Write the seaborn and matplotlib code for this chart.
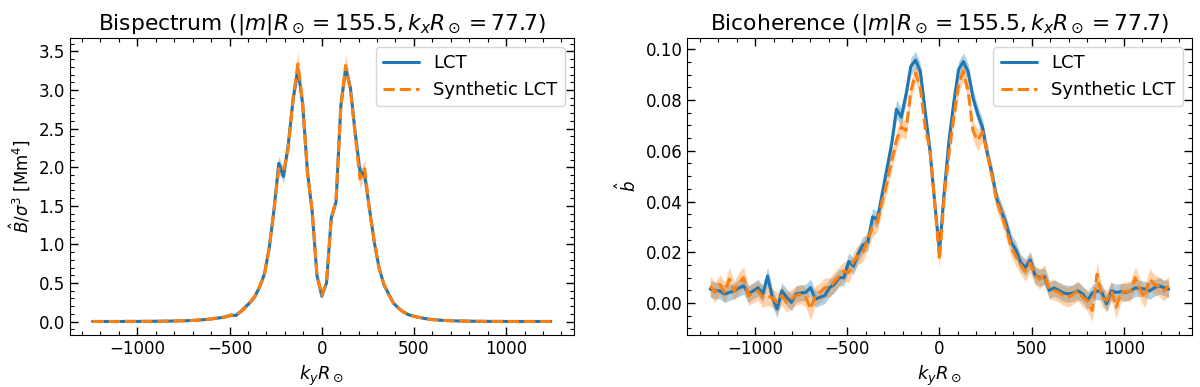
import numpy as np
import pandas as pd
import matplotlib
matplotlib.use("Agg")
import matplotlib.pyplot as plt
import seaborn as sns
from matplotlib.ticker import AutoMinorLocator

# grid index, ky R_sun = n * 25.9
n_idx = list(range(-48, 49))
ky_step = 25.9

# bispectrum, LCT
bisp_lct = [
    0.002, 0.002, 0.002, 0.002, 0.002, 0.002, 0.002, 0.003,
    0.003, 0.003, 0.003, 0.004, 0.004, 0.005, 0.005, 0.006,
    0.007, 0.008, 0.010, 0.011, 0.013, 0.016, 0.020, 0.024,
    0.030, 0.036, 0.045, 0.052, 0.065, 0.085, 0.080, 0.130,
    0.190, 0.250, 0.330, 0.450, 0.620, 0.950, 1.450, 2.050,
    1.880, 2.300, 2.880, 3.270, 2.820, 1.950, 1.420, 0.600,
    0.330,
    0.500, 1.350, 1.550, 2.800, 3.280, 3.030, 2.450, 1.950,
    1.900, 1.460, 1.030, 0.700, 0.480, 0.360, 0.240, 0.180,
    0.130, 0.095, 0.075, 0.060, 0.048, 0.036, 0.028, 0.022,
    0.018, 0.015, 0.012, 0.010, 0.008, 0.007, 0.006, 0.005,
    0.004, 0.004, 0.003, 0.003, 0.003, 0.003, 0.002, 0.002,
    0.002, 0.002, 0.002, 0.002, 0.002, 0.002, 0.002, 0.002,
]
bisp_lct_err = [
    0.002, 0.002, 0.002, 0.002, 0.002, 0.002, 0.002, 0.002,
    0.002, 0.002, 0.002, 0.002, 0.003, 0.003, 0.003, 0.003,
    0.003, 0.004, 0.004, 0.004, 0.005, 0.005, 0.006, 0.006,
    0.007, 0.008, 0.009, 0.010, 0.012, 0.015, 0.015, 0.018,
    0.020, 0.020, 0.025, 0.030, 0.035, 0.040, 0.050, 0.090,
    0.090, 0.060, 0.070, 0.080, 0.070, 0.050, 0.040, 0.030,
    0.030,
    0.030, 0.040, 0.050, 0.070, 0.080, 0.070, 0.060, 0.060,
    0.060, 0.050, 0.040, 0.035, 0.030, 0.025, 0.020, 0.020,
    0.018, 0.015, 0.013, 0.012, 0.010, 0.009, 0.008, 0.007,
    0.006, 0.006, 0.005, 0.005, 0.004, 0.004, 0.004, 0.003,
    0.003, 0.003, 0.003, 0.003, 0.002, 0.002, 0.002, 0.002,
    0.002, 0.002, 0.002, 0.002, 0.002, 0.002, 0.002, 0.002,
]
# bispectrum, synthetic LCT
bisp_syn = [
    0.002, 0.002, 0.002, 0.002, 0.002, 0.002, 0.002, 0.003,
    0.003, 0.003, 0.003, 0.004, 0.004, 0.005, 0.005, 0.006,
    0.007, 0.008, 0.009, 0.011, 0.013, 0.016, 0.019, 0.024,
    0.029, 0.036, 0.044, 0.053, 0.064, 0.082, 0.082, 0.128,
    0.185, 0.255, 0.325, 0.455, 0.610, 0.960, 1.440, 1.980,
    1.950, 2.250, 2.900, 3.340, 2.840, 1.920, 1.440, 0.610,
    0.340,
    0.510, 1.330, 1.580, 2.780, 3.320, 3.000, 2.420, 1.850,
    1.980, 1.440, 1.040, 0.690, 0.490, 0.350, 0.245, 0.175,
    0.128, 0.096, 0.074, 0.058, 0.047, 0.037, 0.027, 0.022,
    0.018, 0.014, 0.012, 0.010, 0.008, 0.007, 0.006, 0.005,
    0.004, 0.004, 0.003, 0.003, 0.003, 0.003, 0.002, 0.002,
    0.002, 0.002, 0.002, 0.002, 0.002, 0.002, 0.002, 0.002,
]
bisp_syn_err = [
    0.002, 0.002, 0.002, 0.002, 0.002, 0.002, 0.002, 0.002,
    0.002, 0.002, 0.002, 0.002, 0.003, 0.003, 0.003, 0.003,
    0.003, 0.004, 0.004, 0.004, 0.005, 0.005, 0.006, 0.006,
    0.008, 0.009, 0.010, 0.012, 0.014, 0.018, 0.018, 0.022,
    0.025, 0.025, 0.030, 0.035, 0.040, 0.050, 0.060, 0.080,
    0.080, 0.080, 0.120, 0.160, 0.100, 0.070, 0.050, 0.040,
    0.040,
    0.040, 0.050, 0.070, 0.100, 0.140, 0.100, 0.080, 0.120,
    0.120, 0.070, 0.050, 0.040, 0.035, 0.030, 0.025, 0.022,
    0.020, 0.018, 0.015, 0.013, 0.011, 0.010, 0.009, 0.008,
    0.007, 0.006, 0.005, 0.005, 0.004, 0.004, 0.004, 0.003,
    0.003, 0.003, 0.003, 0.003, 0.002, 0.002, 0.002, 0.002,
    0.002, 0.002, 0.002, 0.002, 0.002, 0.002, 0.002, 0.002,
]

# bicoherence, LCT
bicoh_lct = [
    0.0055, 0.0050, 0.0048, 0.0036, 0.0042, 0.0048, 0.0060, 0.0068,
    0.0036, 0.0048, 0.0061, 0.0036, 0.0106, 0.0023, -0.0023, 0.0048,
    0.0023, 0.0003, 0.0036, 0.0040, 0.0042, 0.0061, 0.0016, 0.0023,
    0.0030, 0.0061, 0.0074, 0.0100, 0.0100, 0.0164, 0.0145, 0.0195,
    0.0229, 0.0240, 0.0340, 0.0330, 0.0430, 0.0530, 0.0629, 0.0764,
    0.0732, 0.0822, 0.0932, 0.0957, 0.0912, 0.0757, 0.0603, 0.0397,
    0.0203,
    0.0440, 0.0640, 0.0790, 0.0920, 0.0951, 0.0912, 0.0810, 0.0745,
    0.0693, 0.0590, 0.0510, 0.0410, 0.0360, 0.0310, 0.0240, 0.0210,
    0.0160, 0.0140, 0.0170, 0.0110, 0.0100, 0.0105, 0.0050, 0.0060,
    0.0050, 0.0040, 0.0036, 0.0040, 0.0048, 0.0036, 0.0010, 0.0040,
    0.0048, 0.0042, -0.0003, 0.0048, 0.0042, 0.0045, 0.0042, 0.0048,
    0.0060, 0.0058, 0.0055, 0.0048, 0.0060, 0.0068, 0.0061, 0.0055,
]
bicoh_lct_err = [
    0.0032, 0.0033, 0.0031, 0.0034, 0.0032, 0.0031, 0.0034, 0.0033,
    0.0034, 0.0032, 0.0033, 0.0034, 0.0036, 0.0035, 0.0034, 0.0032,
    0.0033, 0.0034, 0.0032, 0.0031, 0.0032, 0.0034, 0.0033, 0.0032,
    0.0032, 0.0034, 0.0034, 0.0033, 0.0032, 0.0034, 0.0032, 0.0033,
    0.0032, 0.0032, 0.0033, 0.0032, 0.0031, 0.0032, 0.0033, 0.0036,
    0.0036, 0.0032, 0.0034, 0.0034, 0.0032, 0.0029, 0.0027, 0.0026,
    0.0026,
    0.0026, 0.0027, 0.0029, 0.0032, 0.0034, 0.0032, 0.0032, 0.0033,
    0.0032, 0.0033, 0.0032, 0.0033, 0.0032, 0.0033, 0.0032, 0.0033,
    0.0032, 0.0033, 0.0034, 0.0032, 0.0033, 0.0034, 0.0032, 0.0033,
    0.0032, 0.0034, 0.0033, 0.0032, 0.0034, 0.0032, 0.0034, 0.0033,
    0.0034, 0.0032, 0.0035, 0.0034, 0.0033, 0.0032, 0.0034, 0.0033,
    0.0034, 0.0032, 0.0031, 0.0034, 0.0033, 0.0032, 0.0031, 0.0034,
]
# bicoherence, synthetic LCT
bicoh_syn = [
    0.0068, 0.0042, 0.0074, 0.0042, 0.0094, 0.0048, 0.0080, 0.0100,
    0.0029, 0.0040, 0.0048, 0.0023, 0.0029, 0.0020, 0.0003, 0.0029,
    0.0003, 0.0016, 0.0030, 0.0036, 0.0023, -0.0023, 0.0030, 0.0042,
    0.0061, 0.0061, 0.0085, 0.0106, 0.0126, 0.0120, 0.0164, 0.0190,
    0.0203, 0.0250, 0.0300, 0.0319, 0.0400, 0.0474, 0.0560, 0.0641,
    0.0693, 0.0680, 0.0835, 0.0906, 0.0848, 0.0693, 0.0603, 0.0397,
    0.0170,
    0.0420, 0.0590, 0.0732, 0.0860, 0.0912, 0.0835, 0.0680, 0.0641,
    0.0674, 0.0590, 0.0500, 0.0400, 0.0350, 0.0290, 0.0220, 0.0184,
    0.0150, 0.0126, 0.0158, 0.0110, 0.0094, 0.0113, 0.0055, 0.0050,
    0.0042, 0.0029, 0.0023, 0.0035, 0.0048, 0.0023, 0.0010, -0.0029,
    0.0113, 0.0023, 0.0010, 0.0048, -0.0016, 0.0042, 0.0045, 0.0048,
    0.0100, 0.0055, 0.0023, 0.0094, 0.0074, 0.0065, 0.0048, 0.0068,
]
bicoh_syn_err = [
    0.0038, 0.0040, 0.0038, 0.0042, 0.0044, 0.0038, 0.0040, 0.0043,
    0.0038, 0.0039, 0.0038, 0.0040, 0.0038, 0.0038, 0.0039, 0.0038,
    0.0039, 0.0038, 0.0038, 0.0039, 0.0038, 0.0043, 0.0038, 0.0038,
    0.0038, 0.0039, 0.0038, 0.0038, 0.0038, 0.0040, 0.0038, 0.0038,
    0.0038, 0.0038, 0.0038, 0.0038, 0.0037, 0.0037, 0.0036, 0.0036,
    0.0038, 0.0036, 0.0036, 0.0036, 0.0035, 0.0033, 0.0030, 0.0030,
    0.0030,
    0.0030, 0.0030, 0.0033, 0.0035, 0.0036, 0.0036, 0.0036, 0.0042,
    0.0038, 0.0036, 0.0036, 0.0037, 0.0038, 0.0038, 0.0038, 0.0038,
    0.0038, 0.0039, 0.0038, 0.0038, 0.0039, 0.0038, 0.0038, 0.0038,
    0.0038, 0.0039, 0.0038, 0.0038, 0.0040, 0.0038, 0.0042, 0.0044,
    0.0048, 0.0038, 0.0039, 0.0038, 0.0043, 0.0038, 0.0038, 0.0039,
    0.0043, 0.0038, 0.0042, 0.0043, 0.0038, 0.0038, 0.0039, 0.0038,
]

ky = np.array(n_idx) * ky_step

blue = "#1f77b4"
orange = "#ff7f0e"

sns.set_style("ticks", rc={"text.color": "black", "axes.labelcolor": "black",
                           "xtick.color": "black", "ytick.color": "black",
                           "axes.edgecolor": "black"})
plt.rcParams["font.family"] = ["DejaVu Sans"]
plt.rcParams["mathtext.fontset"] = "dejavusans"

fig, axes = plt.subplots(1, 2, figsize=(12, 3.87), dpi=100)
fig.subplots_adjust(left=0.058, right=0.993, top=0.902, bottom=0.134, wspace=0.225)

panels = [
    (axes[0], bisp_lct, bisp_lct_err, bisp_syn, bisp_syn_err,
     r"Bispectrum ($|m|R_\odot = 155.5, k_xR_\odot = 77.7$)",
     r"$\hat{B}/\sigma^3$ [Mm$^4$]"),
    (axes[1], bicoh_lct, bicoh_lct_err, bicoh_syn, bicoh_syn_err,
     r"Bicoherence ($|m|R_\odot = 155.5, k_xR_\odot = 77.7$)",
     r"$\hat{b}$"),
]

for ax, lct, lct_err, syn, syn_err, title, ylab in panels:
    df = pd.DataFrame({"ky": ky, "LCT": lct, "Synthetic LCT": syn})
    lct = np.array(lct)
    syn = np.array(syn)
    ax.fill_between(ky, lct - np.array(lct_err), lct + np.array(lct_err),
                    color=blue, alpha=0.35, lw=0)
    ax.fill_between(ky, syn - np.array(syn_err), syn + np.array(syn_err),
                    color=orange, alpha=0.35, lw=0)
    sns.lineplot(data=df, x="ky", y="LCT", ax=ax, color=blue, lw=2.2, label="LCT")
    sns.lineplot(data=df, x="ky", y="Synthetic LCT", ax=ax, color=orange, lw=2.2,
                 ls="--", label="Synthetic LCT")
    ax.set_title(title, fontsize=15.7)
    ax.set_xlabel(r"$k_yR_\odot$", fontsize=13)
    ax.set_ylabel(ylab, fontsize=12)
    ax.set_xticks([-1000, -500, 0, 500, 1000])
    ax.xaxis.set_minor_locator(AutoMinorLocator())
    ax.yaxis.set_minor_locator(AutoMinorLocator())
    ax.tick_params(which="both", direction="in", top=True, right=True,
                   bottom=True, left=True, labelsize=12, colors="black")
    ax.tick_params(which="major", length=6, width=1)
    ax.tick_params(which="minor", length=3, width=0.8)
    ax.legend(loc="upper right", fontsize=13)

fig.savefig("out.png", dpi=100)
